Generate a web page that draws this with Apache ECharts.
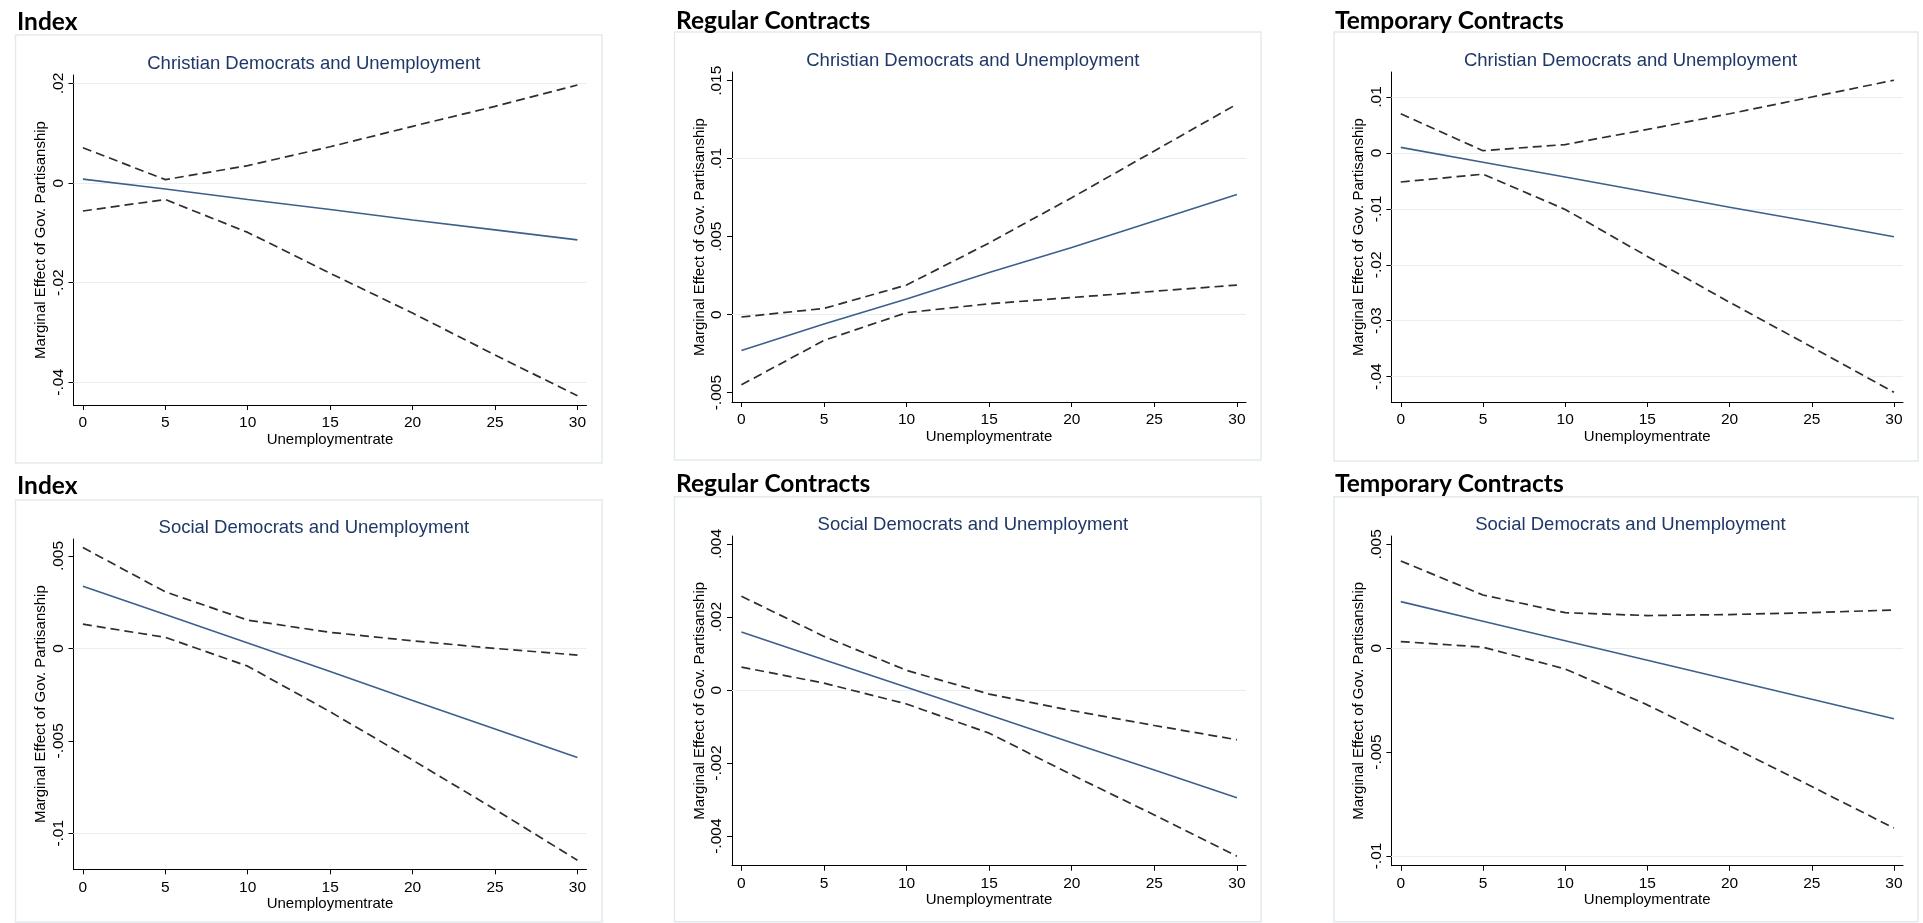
<!DOCTYPE html>
<html>
<head>
<meta charset="utf-8">
<script src="https://cdn.jsdelivr.net/npm/echarts@6/dist/echarts.min.js"></script>
<style>
html,body{margin:0;padding:0;background:#fff;}
#c{width:1923px;height:923px;}
</style>
</head>
<body>
<div id="c"></div>
<script>
// ---------------- DATA ----------------
const xVals = [0, 5, 10, 15, 20, 25, 30];
const xTicks = [0, 5, 10, 15, 20, 25, 30];
const headings = ['Index', 'Regular Contracts', 'Temporary Contracts', 'Index', 'Regular Contracts', 'Temporary Contracts'];
const subtitles = ['Christian Democrats and Unemployment', 'Christian Democrats and Unemployment', 'Christian Democrats and Unemployment',
                   'Social Democrats and Unemployment', 'Social Democrats and Unemployment', 'Social Democrats and Unemployment'];
const xTitle = 'Unemploymentrate';
const yTitle = 'Marginal Effect of Gov. Partisanship';

// Panel 1: Index, Christian Democrats
const p1Effect = [0.0008, -0.0012, -0.0033, -0.0053, -0.0074, -0.0094, -0.0114];
const p1Upper  = [0.0071, 0.0007, 0.0035, 0.0073, 0.0114, 0.0154, 0.0197];
const p1Lower  = [-0.0056, -0.0033, -0.0099, -0.0181, -0.0261, -0.0345, -0.0427];
const p1YTicks = [-0.04, -0.02, 0, 0.02];

// Panel 2: Regular Contracts, Christian Democrats
const p2Effect = [-0.0023, -0.0006, 0.0010, 0.0027, 0.0043, 0.0060, 0.0077];
const p2Upper  = [-0.00015, 0.0004, 0.0019, 0.0046, 0.0075, 0.0105, 0.0135];
const p2Lower  = [-0.0045, -0.00165, 0.00013, 0.0007, 0.0011, 0.0015, 0.0019];
const p2YTicks = [-0.005, 0, 0.005, 0.01, 0.015];

// Panel 3: Temporary Contracts, Christian Democrats
const p3Effect = [0.0010, -0.00165, -0.0043, -0.0070, -0.0097, -0.0123, -0.0150];
const p3Upper  = [0.0070, 0.0004, 0.0015, 0.0042, 0.0070, 0.0100, 0.0130];
const p3Lower  = [-0.0052, -0.0038, -0.0101, -0.0185, -0.0267, -0.0347, -0.0428];
const p3YTicks = [-0.04, -0.03, -0.02, -0.01, 0, 0.01];

// Panel 4: Index, Social Democrats
const p4Effect = [0.00337, 0.00183, 0.00029, -0.00125, -0.00282, -0.00436, -0.0059];
const p4Upper  = [0.00546, 0.00306, 0.00153, 0.00087, 0.00041, 0.0000, -0.00036];
const p4Lower  = [0.00131, 0.0006, -0.00096, -0.00343, -0.00604, -0.00871, -0.01146];
const p4YTicks = [-0.01, -0.005, 0, 0.005];

// Panel 5: Regular Contracts, Social Democrats
const p5Effect = [0.00159, 0.00083, 0.00008, -0.00068, -0.00144, -0.00219, -0.00295];
const p5Upper  = [0.00257, 0.00147, 0.00054, -0.00011, -0.00056, -0.00097, -0.00136];
const p5Lower  = [0.00063, 0.00019, -0.00038, -0.00118, -0.00232, -0.00342, -0.00455];
const p5YTicks = [-0.004, -0.002, 0, 0.002, 0.004];

// Panel 6: Temporary Contracts, Social Democrats
const p6Effect = [0.00224, 0.00130, 0.00036, -0.00058, -0.00152, -0.00246, -0.0034];
const p6Upper  = [0.0042, 0.00256, 0.00171, 0.00157, 0.00162, 0.00171, 0.00184];
const p6Lower  = [0.00032, 0.00005, -0.0010, -0.00273, -0.0047, -0.00666, -0.00866];
const p6YTicks = [-0.01, -0.005, 0, 0.005];

// ---------------- LAYOUT ----------------
const panels = [
  {eff: p1Effect, up: p1Upper, lo: p1Lower, ticks: p1YTicks, yMin: -0.04455, yMax: 0.0217,
   grid: {left: 73.5, top: 75, width: 513, height: 330}, box: [15.5, 35, 586.5, 428], head: [12, 5], sub: [308.8, 49]},
  {eff: p2Effect, up: p2Upper, lo: p2Lower, ticks: p2YTicks, yMin: -0.0056, yMax: 0.01556,
   grid: {left: 732, top: 72, width: 514, height: 330}, box: [674.5, 32, 586.5, 428], head: [671, 4], sub: [967.8, 46]},
  {eff: p3Effect, up: p3Upper, lo: p3Lower, ticks: p3YTicks, yMin: -0.04453, yMax: 0.01447,
   grid: {left: 1391.4, top: 72, width: 511.6, height: 330}, box: [1334, 32, 584, 429], head: [1330, 4], sub: [1625.5, 46]},
  {eff: p4Effect, up: p4Upper, lo: p4Lower, ticks: p4YTicks, yMin: -0.01195, yMax: 0.00592,
   grid: {left: 73.5, top: 539, width: 513, height: 330.3}, box: [15.5, 500, 586.5, 422], head: [12, 469], sub: [308.8, 513]},
  {eff: p5Effect, up: p5Upper, lo: p5Lower, ticks: p5YTicks, yMin: -0.00481, yMax: 0.00422,
   grid: {left: 732, top: 536, width: 514, height: 329.7}, box: [674.5, 496.7, 586.5, 425], head: [671, 467], sub: [967.8, 510]},
  {eff: p6Effect, up: p6Upper, lo: p6Lower, ticks: p6YTicks, yMin: -0.01047, yMax: 0.0054,
   grid: {left: 1391.4, top: 536, width: 511.6, height: 329.7}, box: [1334, 496.7, 584, 425], head: [1330, 467], sub: [1625.5, 510]}
];

const FONT = 'Liberation Sans, Arial, sans-serif';
function fmt(v) {
  if (Math.abs(v) < 1e-12) return '0';
  let s = String(+Number(v).toPrecision(6));
  return s.replace(/^(-?)0\./, '$1.');
}
function pairs(arr) { return xVals.map((x, i) => [x, arr[i]]); }

const option = {
  backgroundColor: '#ffffff',
  animation: false,
  title: [], grid: [], xAxis: [], yAxis: [], series: [], graphic: []
};

panels.forEach((p, i) => {
  option.graphic.push({
    type: 'rect', z: -10, silent: true,
    shape: {x: p.box[0], y: p.box[1], width: p.box[2], height: p.box[3]},
    style: {fill: '#ffffff', stroke: '#e3eaee', lineWidth: 1.5}
  });
  option.title.push({
    text: headings[i], left: p.head[0], top: p.head[1],
    textStyle: {fontFamily: 'Lato, Open Sans, sans-serif', fontWeight: 'bold', fontSize: 24.5, color: '#000'}
  });
  option.title.push({
    text: subtitles[i], left: p.sub[0], top: p.sub[1], textAlign: 'center',
    textStyle: {fontFamily: FONT, fontWeight: 'normal', fontSize: 18.5, color: '#1f3868'}
  });
  option.grid.push(Object.assign({containLabel: false}, p.grid));
  option.xAxis.push({
    type: 'value', gridIndex: i, min: -0.57, max: 30.55,
    name: xTitle, nameLocation: 'middle', nameGap: 24,
    nameTextStyle: {fontFamily: FONT, fontSize: 15, color: '#000'},
    axisLine: {show: true, onZero: false, lineStyle: {color: '#000', width: 1}},
    axisTick: {show: true, length: 5, customValues: xTicks, lineStyle: {color: '#000'}},
    axisLabel: {customValues: xTicks, margin: 10, fontFamily: FONT, fontSize: 15.5, color: '#000', formatter: v => String(v)},
    splitLine: {show: false}
  });
  option.yAxis.push({
    type: 'value', gridIndex: i, min: p.yMin, max: p.yMax,
    name: yTitle, nameLocation: 'middle', nameGap: 25, nameRotate: 90,
    nameTextStyle: {fontFamily: FONT, fontSize: 15, color: '#000'},
    axisLine: {show: true, onZero: false, lineStyle: {color: '#000', width: 1}},
    axisTick: {show: true, length: 5, customValues: p.ticks, lineStyle: {color: '#000'}},
    axisLabel: {customValues: p.ticks, rotate: 90, margin: 7, fontFamily: FONT, fontSize: 15.5, color: '#000', formatter: fmt},
    splitLine: {show: false}
  });
  option.series.push({
    type: 'line', xAxisIndex: i, yAxisIndex: i, data: [], z: 1, silent: true,
    markLine: {
      silent: true, symbol: ['none', 'none'], z: 1, animation: false,
      label: {show: false},
      lineStyle: {color: '#e6eff1', type: 'solid', width: 1.2},
      emphasis: {disabled: true},
      data: p.ticks.map(t => ({yAxis: t}))
    }
  });
  option.series.push({
    type: 'line', xAxisIndex: i, yAxisIndex: i, data: pairs(p.up), z: 3,
    showSymbol: false, silent: true,
    lineStyle: {color: '#2e2e2e', width: 1.7, type: [9, 5]}
  });
  option.series.push({
    type: 'line', xAxisIndex: i, yAxisIndex: i, data: pairs(p.lo), z: 3,
    showSymbol: false, silent: true,
    lineStyle: {color: '#2e2e2e', width: 1.7, type: [9, 5]}
  });
  option.series.push({
    type: 'line', xAxisIndex: i, yAxisIndex: i, data: pairs(p.eff), z: 4,
    showSymbol: false, silent: true,
    lineStyle: {color: '#3d5f8c', width: 1.6, type: 'solid'}
  });
});

const chart = echarts.init(document.getElementById('c'), null, {renderer: 'canvas'});
chart.setOption(option);
</script>
</body>
</html>
